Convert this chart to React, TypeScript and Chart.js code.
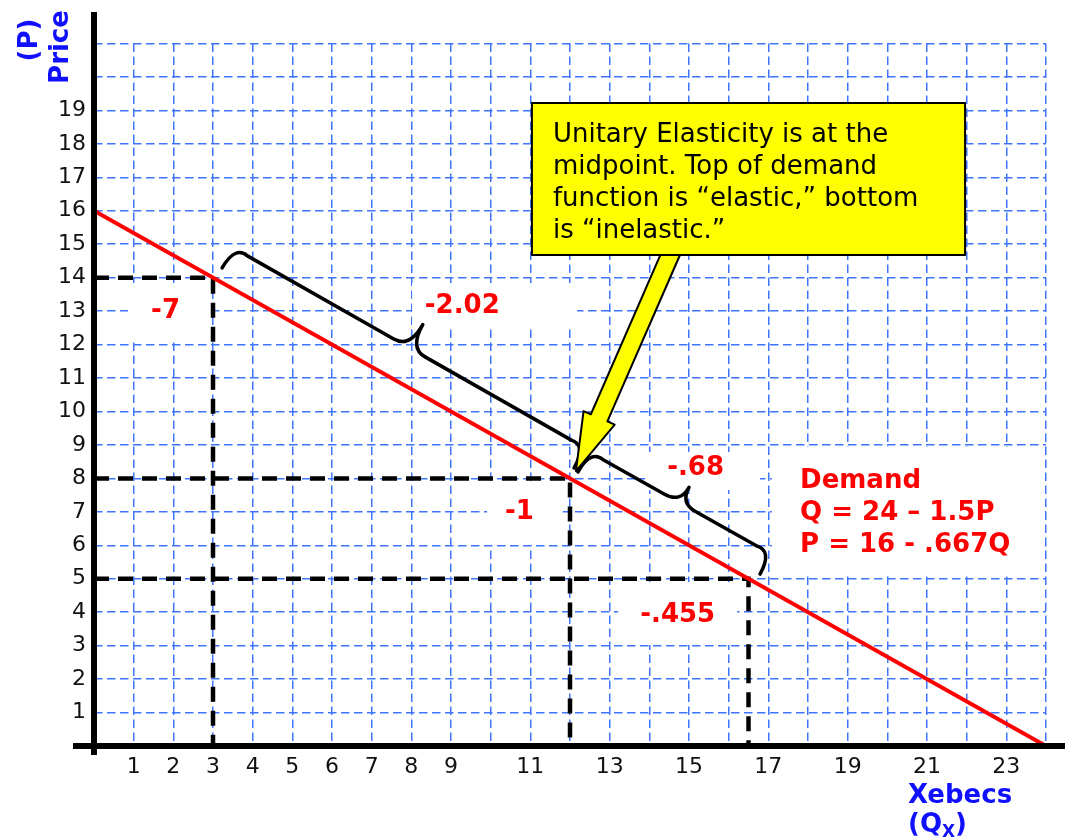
import React, { useEffect, useRef } from 'react';
import { Chart, registerables } from 'chart.js';

Chart.register(...registerables);

// ---------- data ----------
const demandQ = [0, 24];
const demandP = [16, 0];
const pointQ = [3, 12, 16.5];
const pointP = [14, 8, 5];
const pointElasticity = ['-7', '-1', '-.455'];
const arcElasticity = ['-2.02', '-.68'];
const xTickValues = [1, 2, 3, 4, 5, 6, 7, 8, 9, 11, 13, 15, 17, 19, 21, 23];
const yTickValues = [1, 2, 3, 4, 5, 6, 7, 8, 9, 10, 11, 12, 13, 14, 15, 16, 17, 18, 19];
const calloutLines = [
  'Unitary Elasticity is at the',
  'midpoint. Top of demand',
  'function is \u201celastic,\u201d bottom',
  'is \u201cinelastic.\u201d',
];
const demandLines = ['Demand', 'Q = 24 \u2013 1.5P', 'P = 16 - .667Q'];
const xTitle = 'Xebecs';
const xTitleSub = ['(Q', 'X', ')'];
const yTitleLines = ['(P)', 'Price'];

// ---------- annotation placement (data coordinates) ----------
const pointLabelPos = [
  [1.44, 12.79],
  [10.36, 6.79],
  [13.77, 3.71],
];
const arcLabelPos = [
  [8.34, 12.94],
  [14.45, 8.1],
];
const whiteBoxes = [
  [0.86, 2.97, 12.08, 13.84],
  [8.02, 12.18, 12.58, 13.84],
  [13.89, 16.79, 7.65, 8.79],
  [9.91, 11.82, 6.01, 7.86],
  [13.21, 16.21, 3.02, 4.9],
  [17.09, 23.97, 5.08, 8.94],
];
const braces = [
  { a: [3.23, 14.29], b: [12.1, 8.31], w: 50, h: 23 },
  { a: [12.2, 8.19], b: [16.79, 5.14], w: 41, h: 23 },
];
const calloutBox = [11.04, 21.96, 14.68, 19.22];
const calloutTextPos = [11.57, 18.06];
const arrowBase = [14.57, 14.8];
const arrowTip = [12.15, 8.22];
const demandTextPos = [17.8, 7.71];

const RED = '#ff0000';
const BLUE = '#1010ff';
const FONT = '"DejaVu Sans", Verdana, sans-serif';

function drawBrace(ctx: CanvasRenderingContext2D, x1: number, y1: number, x2: number, y2: number, w: number, h: number) {
  const dx = x2 - x1, dy = y2 - y1;
  const L = Math.hypot(dx, dy);
  const ux = dx / L, uy = dy / L;
  const nx = uy, ny = -ux;
  const P = (u: number, v: number): [number, number] => [x1 + u * ux + v * nx, y1 + u * uy + v * ny];
  const r = 16, r2 = 18, m = L / 2;
  ctx.beginPath();
  ctx.moveTo(...P(0, 0));
  ctx.bezierCurveTo(...P(0, h * 0.8), ...P(r * 0.4, h + 2), ...P(r, h));
  ctx.lineTo(...P(m - r2, h));
  ctx.quadraticCurveTo(...P(m, h), ...P(m, w));
  ctx.moveTo(...P(L, 0));
  ctx.bezierCurveTo(...P(L, h * 0.8), ...P(L - r * 0.4, h + 2), ...P(L - r, h));
  ctx.lineTo(...P(m + r2, h));
  ctx.quadraticCurveTo(...P(m, h), ...P(m, w));
  ctx.stroke();
}

function drawArrow(ctx: CanvasRenderingContext2D, bx: number, by: number, tx: number, ty: number, sw: number, hw: number, hl: number) {
  const dx = tx - bx, dy = ty - by;
  const L = Math.hypot(dx, dy);
  const ux = dx / L, uy = dy / L;
  const nx = -uy, ny = ux;
  const hx = tx - ux * hl, hy = ty - uy * hl;
  ctx.beginPath();
  ctx.moveTo(bx + nx * sw, by + ny * sw);
  ctx.lineTo(hx + nx * sw, hy + ny * sw);
  ctx.lineTo(hx + nx * hw, hy + ny * hw);
  ctx.lineTo(tx, ty);
  ctx.lineTo(hx - nx * hw, hy - ny * hw);
  ctx.lineTo(hx - nx * sw, hy - ny * sw);
  ctx.lineTo(bx - nx * sw, by - ny * sw);
  ctx.closePath();
  ctx.fillStyle = '#ffff00';
  ctx.fill();
  ctx.strokeStyle = '#000';
  ctx.lineWidth = 2;
  ctx.stroke();
}

const annotations = {
  id: 'annotations',
  beforeDatasetsDraw(chart: any) {
    const { ctx } = chart;
    const xs = chart.scales.x, ys = chart.scales.y;
    ctx.save();
    ctx.fillStyle = '#ffffff';
    for (const b of whiteBoxes) {
      const x1 = xs.getPixelForValue(b[0]);
      const x2 = xs.getPixelForValue(b[1]);
      const y1 = ys.getPixelForValue(b[3]);
      const y2 = ys.getPixelForValue(b[2]);
      ctx.fillRect(x1, y1, x2 - x1, y2 - y1);
    }
    ctx.restore();
  },
  afterDatasetsDraw(chart: any) {
    const { ctx, chartArea } = chart;
    const xs = chart.scales.x, ys = chart.scales.y;
    const px = (q: number) => xs.getPixelForValue(q);
    const py = (p: number) => ys.getPixelForValue(p);
    ctx.save();

    // braces
    ctx.strokeStyle = '#000';
    ctx.lineWidth = 3.5;
    ctx.lineCap = 'round';
    ctx.lineJoin = 'round';
    for (const br of braces) {
      drawBrace(ctx, px(br.a[0]), py(br.a[1]), px(br.b[0]), py(br.b[1]), br.w, br.h);
    }

    // red labels
    ctx.fillStyle = RED;
    ctx.font = `bold 26px ${FONT}`;
    ctx.textAlign = 'left';
    ctx.textBaseline = 'alphabetic';
    pointElasticity.forEach((t, i) => ctx.fillText(t, px(pointLabelPos[i][0]), py(pointLabelPos[i][1])));
    arcElasticity.forEach((t, i) => ctx.fillText(t, px(arcLabelPos[i][0]), py(arcLabelPos[i][1])));
    demandLines.forEach((t, i) => ctx.fillText(t, px(demandTextPos[0]), py(demandTextPos[1]) + i * 32));

    // arrow + callout
    const bx1 = px(calloutBox[0]), bx2 = px(calloutBox[1]);
    const by1 = py(calloutBox[3]), by2 = py(calloutBox[2]);
    drawArrow(ctx, px(arrowBase[0]), py(arrowBase[1]), px(arrowTip[0]), py(arrowTip[1]), 9, 17, 58);
    ctx.fillStyle = '#ffff00';
    ctx.fillRect(bx1, by1, bx2 - bx1, by2 - by1);
    ctx.strokeStyle = '#000';
    ctx.lineWidth = 2;
    ctx.lineCap = 'butt';
    ctx.strokeRect(bx1, by1, bx2 - bx1, by2 - by1);
    ctx.fillStyle = '#000';
    ctx.font = `26px ${FONT}`;
    calloutLines.forEach((t, i) => ctx.fillText(t, px(calloutTextPos[0]), py(calloutTextPos[1]) + i * 32));

    // axis lines
    ctx.strokeStyle = '#000';
    ctx.lineWidth = 6;
    ctx.lineCap = 'butt';
    const ox = px(0), oy = py(0);
    ctx.beginPath();
    ctx.moveTo(ox, 12);
    ctx.lineTo(ox, oy + 9);
    ctx.stroke();
    ctx.beginPath();
    ctx.moveTo(chartArea.left - 21, oy);
    ctx.lineTo(chart.width, oy);
    ctx.stroke();

    // axis titles
    ctx.fillStyle = BLUE;
    ctx.font = `bold 26px ${FONT}`;
    ctx.save();
    ctx.translate(37, 40);
    ctx.rotate(-Math.PI / 2);
    ctx.textAlign = 'center';
    ctx.fillText(yTitleLines[0], 0, 0);
    ctx.restore();
    ctx.save();
    ctx.translate(68, 47);
    ctx.rotate(-Math.PI / 2);
    ctx.textAlign = 'center';
    ctx.fillText(yTitleLines[1], 0, 0);
    ctx.restore();

    ctx.textAlign = 'left';
    ctx.fillText(xTitle, 908, 803);
    let x = 908;
    ctx.fillText(xTitleSub[0], x, 832);
    x += ctx.measureText(xTitleSub[0]).width;
    ctx.font = `bold 17px ${FONT}`;
    ctx.fillText(xTitleSub[1], x, 837);
    x += ctx.measureText(xTitleSub[1]).width;
    ctx.font = `bold 26px ${FONT}`;
    ctx.fillText(xTitleSub[2], x, 832);

    ctx.restore();
  },
};

export default function App() {
  const ref = useRef<HTMLCanvasElement>(null);
  useEffect(() => {
    const canvas = ref.current;
    if (!canvas) return;
    const dashed = { borderColor: '#000', borderWidth: 4.5, borderDash: [15, 9], pointRadius: 0, fill: false, tension: 0 };
    const chart = new Chart(canvas, {
      type: 'line',
      data: {
        datasets: [
          {
            label: 'Demand',
            data: demandQ.map((q, i) => ({ x: q, y: demandP[i] })),
            borderColor: RED,
            borderWidth: 4,
            pointRadius: 0,
            fill: false,
          },
          ...pointQ.map((q, i) => ({
            label: 'E ' + pointElasticity[i],
            data: [
              { x: 0, y: pointP[i] },
              { x: q, y: pointP[i] },
              { x: q, y: 0 },
            ],
            ...dashed,
          })),
        ],
      },
      options: {
        responsive: false,
        animation: false,
        devicePixelRatio: 1,
        layout: { padding: { left: 0, top: 43.5, right: 19, bottom: 0 } },
        plugins: { legend: { display: false }, tooltip: { enabled: false } },
        scales: {
          x: {
            type: 'linear',
            min: 0,
            max: 24,
            grid: { color: '#3f74ff', lineWidth: 1.5, drawTicks: false },
            border: { display: false, dash: [8.5, 4.5] },
            afterFit: (s: any) => {
              s.height = 94;
            },
            ticks: {
              stepSize: 1,
              autoSkip: false,
              maxRotation: 0,
              padding: 8,
              color: '#111',
              font: { family: FONT, size: 22 },
              callback: (v: any) => (xTickValues.includes(Number(v)) ? String(v) : ''),
            },
          },
          y: {
            type: 'linear',
            min: 0,
            max: 21,
            grid: { color: '#3f74ff', lineWidth: 1.5, drawTicks: false },
            border: { display: false, dash: [8.5, 4.5] },
            afterFit: (s: any) => {
              s.width = 94;
            },
            ticks: {
              stepSize: 1,
              autoSkip: false,
              padding: 8,
              color: '#111',
              font: { family: FONT, size: 22 },
              callback: (v: any) => (yTickValues.includes(Number(v)) ? String(v) : ''),
            },
          },
        },
      },
      plugins: [annotations],
    } as any);
    return () => chart.destroy();
  }, []);
  return (
    <div style={{ position: 'absolute', left: 0, top: 0, width: 1065, height: 840, background: '#fff' }}>
      <canvas ref={ref} width={1065} height={840} style={{ display: 'block' }} />
    </div>
  );
}
